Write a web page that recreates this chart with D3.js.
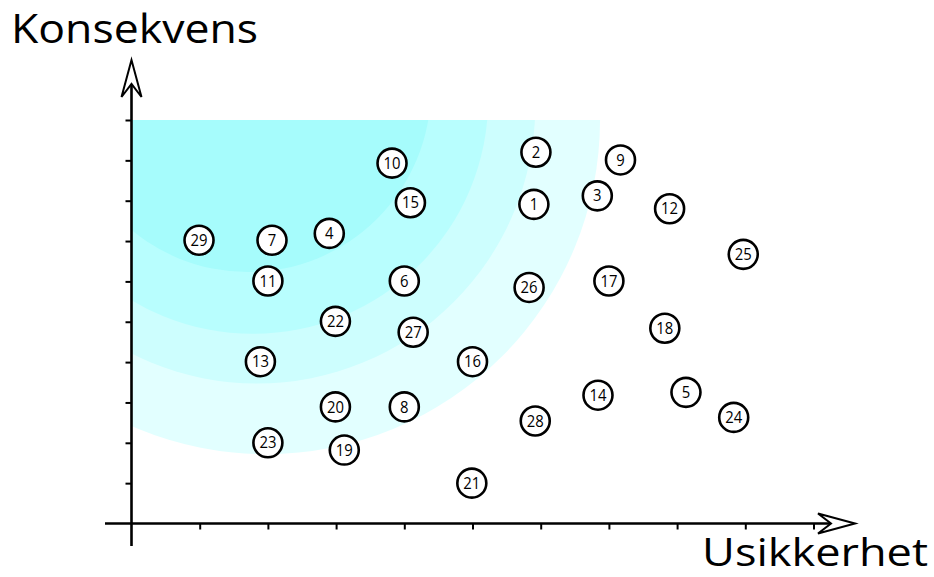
<!DOCTYPE html>
<html>
<head>
<meta charset="utf-8">
<script src="https://cdn.jsdelivr.net/npm/d3@7"></script>
<style>
  html, body { margin: 0; padding: 0; background: #fff; }
  svg { display: block; }
  text { font-family: "Open Sans", "Noto Sans", sans-serif; }
</style>
</head>
<body>
<svg id="chart" width="934" height="577"></svg>
<script>
// ---- data ----
const riskIds = [1,2,3,4,5,6,7,8,9,10,11,12,13,14,15,16,17,18,19,20,21,22,23,24,25,26,27,28,29];
const usikkerhet = [5.9,5.93,6.83,2.9,8.13,4.0,2.06,4.0,7.17,3.82,2.0,7.89,1.89,6.84,4.09,5.0,7.0,7.82,3.12,2.99,4.99,2.99,2.0,8.83,8.97,5.83,4.13,5.92,0.99];
const konsekvens = [7.91,9.2,8.12,7.19,3.25,6.01,7.02,2.89,9.01,8.93,6.01,7.8,4.01,3.18,7.95,4.01,6.01,4.84,1.82,2.89,1.0,5.01,2.0,2.63,6.67,5.85,4.74,2.54,7.02];
const tickValues = [1,2,3,4,5,6,7,8,9,10];
// zone ellipses (data units): centre x, centre y, radius x, radius y — outermost first
const zoneCx = [1.97, 1.84, 1.78, 1.71];
const zoneCy = [10.0, 10.36, 10.52, 10.77];
const zoneRx = [4.9, 4.08, 3.45, 2.68];
const zoneRy = [8.28, 6.89, 5.82, 4.54];
const zoneColors = ["#e2ffff", "#cdfefe", "#b8fefe", "#a6fcfc"];
const xLabel = "Usikkerhet";
const yLabel = "Konsekvens";

// ---- layout ----
const svg = d3.select("#chart");
const x = d3.scaleLinear().domain([0, 10]).range([131.5, 813.5]);
const y = d3.scaleLinear().domain([0, 10]).range([523.5, 120]);

// zones
svg.append("defs").append("clipPath").attr("id", "zoneClip")
  .append("rect")
  .attr("x", x(0)).attr("y", y(10))
  .attr("width", x(10) - x(0)).attr("height", y(0) - y(10));

const zoneG = svg.append("g").attr("clip-path", "url(#zoneClip)");
zoneCx.forEach((cx, i) => {
  zoneG.append("ellipse")
    .attr("cx", x(cx)).attr("cy", y(zoneCy[i]))
    .attr("rx", x(zoneRx[i]) - x(0))
    .attr("ry", y(0) - y(zoneRy[i]))
    .attr("fill", zoneColors[i]);
});

// ticks via axes
const xAxis = d3.axisBottom(x).tickValues(tickValues).tickFormat("").tickSizeInner(6).tickSizeOuter(0);
const yAxis = d3.axisLeft(y).tickValues(tickValues).tickFormat("").tickSizeInner(6).tickSizeOuter(0);
const gx = svg.append("g").attr("transform", `translate(0,${y(0)})`).call(xAxis);
const gy = svg.append("g").attr("transform", `translate(${x(0)},0)`).call(yAxis);
[gx, gy].forEach(g => {
  g.select(".domain").remove();
  g.selectAll(".tick line").attr("stroke", "#000").attr("stroke-width", 2);
});

// axis lines with arrows
const axisG = svg.append("g").attr("stroke", "#000").attr("fill", "none")
  .attr("stroke-width", 2.6).attr("stroke-linecap", "butt");
axisG.append("line").attr("x1", 105).attr("y1", y(0)).attr("x2", 852).attr("y2", y(0));
axisG.append("line").attr("x1", x(0)).attr("y1", 546).attr("x2", x(0)).attr("y2", 62);
// y arrow head (open, notched)
axisG.append("path")
  .attr("d", `M${x(0)},60 L${x(0) - 10},97 L${x(0)},84 L${x(0) + 10},97 Z`)
  .attr("fill", "#fff").attr("stroke-width", 2).attr("stroke-linejoin", "miter");
// x arrow head
axisG.append("path")
  .attr("d", `M855,${y(0)} L818,${y(0) - 10} L831,${y(0)} L818,${y(0) + 10} Z`)
  .attr("fill", "#fff").attr("stroke-width", 2).attr("stroke-linejoin", "miter");

// points
const pts = riskIds.map((id, i) => ({ id, u: usikkerhet[i], k: konsekvens[i] }));
const pg = svg.append("g").selectAll("g").data(pts).join("g")
  .attr("transform", d => `translate(${x(d.u)},${y(d.k)})`);
pg.append("circle").attr("r", 14.5).attr("fill", "#fff")
  .attr("stroke", "#000").attr("stroke-width", 2.6);
pg.append("text").text(d => d.id)
  .attr("text-anchor", "middle").attr("dy", "0.34em")
  .attr("transform", "scale(0.9,1)")
  .attr("font-size", 16.5).attr("fill", "#000");

// axis titles
svg.append("text").text(yLabel)
  .attr("x", 11).attr("y", 43)
  .attr("font-size", 41).attr("fill", "#000")
  .attr("textLength", 247).attr("lengthAdjust", "spacingAndGlyphs");
svg.append("text").text(xLabel)
  .attr("x", 702).attr("y", 566)
  .attr("font-size", 38).attr("fill", "#000")
  .attr("textLength", 226).attr("lengthAdjust", "spacingAndGlyphs");
</script>
</body>
</html>
